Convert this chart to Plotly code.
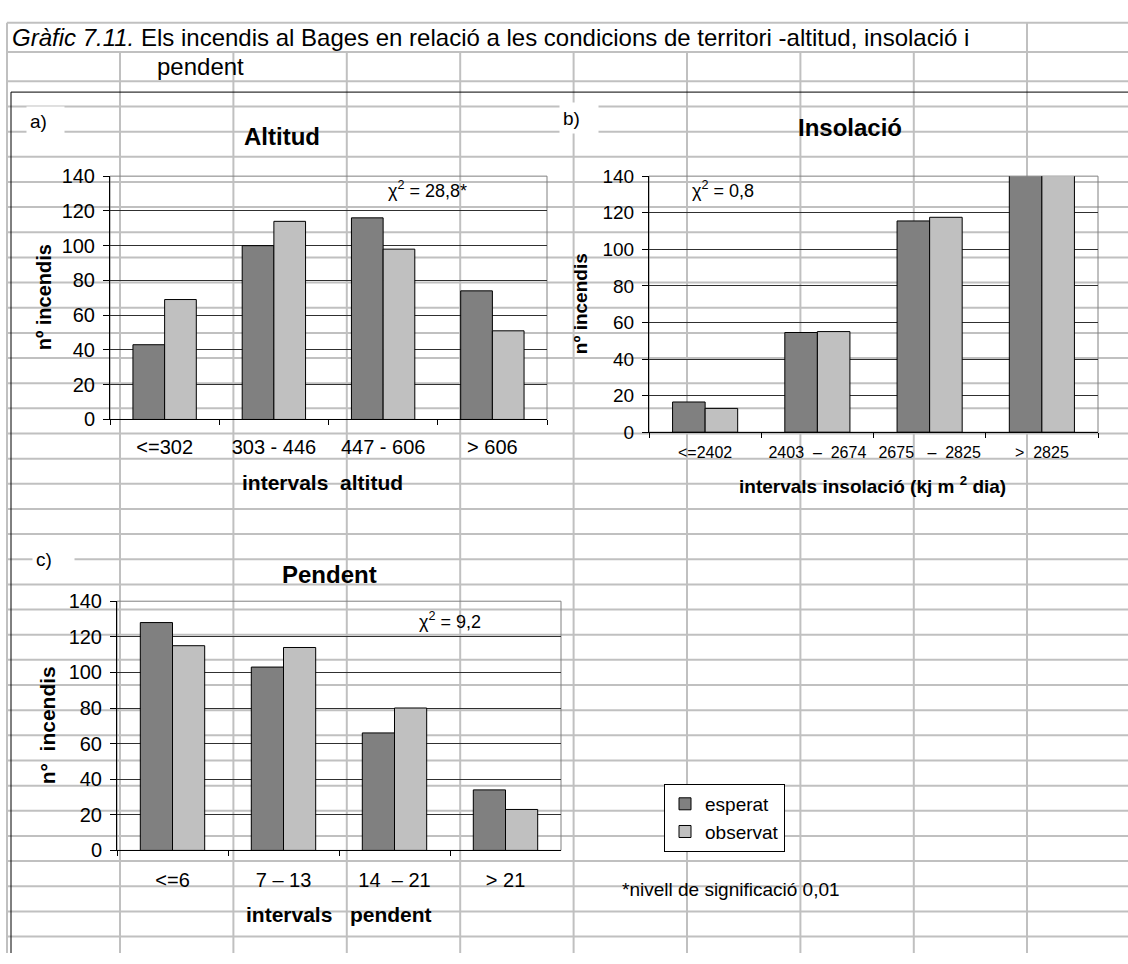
import plotly.graph_objects as go

W, H = 1128, 964
NB = "\u00a0"


def X(p):
    return p / W


def Y(p):
    return 1 - p / H


# ---------------- data ----------------
altitud_cats = ["<=302", "303 - 446", "447 - 606", "> 606"]
altitud_esperat = [43, 100, 116, 74]
altitud_observat = [69, 114, 98, 51]

insolacio_cats = ["<=2402", f"2403{NB}{NB}–{NB}{NB}2674", f"2675{NB}{NB}{NB}–{NB}{NB}2825", f">{NB}{NB}2825"]
insolacio_esperat = [16.5, 54.5, 115.5, 146]
insolacio_observat = [13, 55, 117.5, 147]

pendent_cats = ["<=6", "7 – 13", f"14{NB}{NB}– 21", "> 21"]
pendent_esperat = [128, 103, 66, 34]
pendent_observat = [115, 114, 80, 23]

series_names = ["esperat", "observat"]
series_colors = ["#808080", "#C0C0C0"]

y_ticks = [0, 20, 40, 60, 80, 100, 120, 140]

FONT = "Liberation Sans, Arial, sans-serif"

fig = go.Figure()

panels = [
    ("x", "y", altitud_cats, [altitud_esperat, altitud_observat]),
    ("x2", "y2", insolacio_cats, [insolacio_esperat, insolacio_observat]),
    ("x3", "y3", pendent_cats, [pendent_esperat, pendent_observat]),
]
for pi, (xa, ya, cats, vals) in enumerate(panels):
    for si, (name, col, v) in enumerate(zip(series_names, series_colors, vals)):
        fig.add_trace(go.Bar(
            x=cats, y=v, name=name, xaxis=xa, yaxis=ya,
            marker=dict(color=col, line=dict(color="black", width=1)),
            legendgroup=name, showlegend=(pi == 0), hoverinfo="skip",
        ))

# ---------------- axes ----------------
def xax(dom, size, standoff):
    return dict(domain=[X(dom[0]), X(dom[1])], type="category", showline=True,
                linecolor="black", linewidth=1, ticks="outside", ticklen=5,
                tickcolor="black", tickson="boundaries", showgrid=False,
                tickfont=dict(size=size, color="black", family=FONT),
                ticklabelstandoff=standoff, fixedrange=True)


def yax(dom, size, xanchor):
    return dict(domain=[Y(dom[1]), Y(dom[0])], range=[0, 140], tickvals=y_ticks,
                showline=True, linecolor="black", linewidth=1, ticks="outside",
                ticklen=6, tickcolor="black", showgrid=True, gridcolor="#303030",
                gridwidth=1, zeroline=False, anchor=xanchor,
                tickfont=dict(size=size, color="black", family=FONT),
                ticklabelstandoff=4, fixedrange=True)


fig.update_layout(
    xaxis=dict(**xax((110, 547), 20, 10), anchor="y"),
    yaxis=yax((169, 418), 20, "x"),
    xaxis2=dict(**xax((649, 1098), 16, 6), anchor="y2"),
    yaxis2=yax((169, 431), 19, "x2"),
    xaxis3=dict(**xax((117, 561), 20, 12), anchor="y3"),
    yaxis3=yax((604, 859), 20, "x3"),
)

# ---------------- spreadsheet background ----------------
shapes = []
GRAY = "#C0C0C0"
rows = [12, 42] + [72 + 25.74 * k for k in range(36) if 72 + 25.74 * k < H]
for r in rows:
    shapes.append(dict(type="line", xref="paper", yref="paper", x0=X(7), x1=X(W),
                       y0=Y(r), y1=Y(r), line=dict(color=GRAY, width=2), layer="below"))
shapes.append(dict(type="line", xref="paper", yref="paper", x0=X(7), x1=X(7),
                   y0=Y(12), y1=Y(H), line=dict(color=GRAY, width=2), layer="below"))
shapes.append(dict(type="line", xref="paper", yref="paper", x0=X(1027), x1=X(1027),
                   y0=Y(12), y1=Y(H), line=dict(color=GRAY, width=2), layer="below"))
for c in [120, 233.4, 346.8, 460.2, 573.6, 687, 800.4, 913.8]:
    shapes.append(dict(type="line", xref="paper", yref="paper", x0=X(c), x1=X(c),
                       y0=Y(42), y1=Y(H), line=dict(color=GRAY, width=2), layer="below"))
# chart object frame
shapes.append(dict(type="line", xref="paper", yref="paper", x0=X(11), x1=X(W),
                   y0=Y(83), y1=Y(83), line=dict(color="black", width=1), layer="below"))
shapes.append(dict(type="line", xref="paper", yref="paper", x0=X(11), x1=X(11),
                   y0=Y(83), y1=Y(H), line=dict(color="black", width=1), layer="below"))
# plot area borders
for xa, ya in [("x", "y"), ("x2", "y2"), ("x3", "y3")]:
    shapes.append(dict(type="rect", xref=f"{xa} domain", yref=f"{ya} domain",
                       x0=0, x1=1, y0=0, y1=1, line=dict(color="#808080", width=1),
                       layer="below"))

# ---------------- texts ----------------
ann = []


def txt(t, x, y, size=19, bold=False, xanchor="center", yanchor="middle", angle=0, **kw):
    if bold:
        t = f"<b>{t}</b>"
    ann.append(dict(text=t, x=X(x), y=Y(y), xref="paper", yref="paper", showarrow=False,
                    xanchor=xanchor, yanchor=yanchor, textangle=angle,
                    font=dict(size=size, color="black", family=FONT), **kw))


txt("<i>Gràfic 7.11.</i> Els incendis al Bages en relació a les condicions de territori -altitud, insolació i",
    10, 27, size=24, xanchor="left")
txt("pendent", 155, 57, size=24, xanchor="left")

# panel letters with white cell background
txt("a)", 26, 113, size=19, xanchor="left", bgcolor="white", width=31, height=22, borderpad=3, align="left")
txt("b)", 559, 110, size=19, xanchor="left", bgcolor="white", width=32, height=24, borderpad=3, align="left")
txt("c)", 32, 561, size=19, xanchor="left", bgcolor="white", width=35, height=22, borderpad=3, align="left")

txt("Altitud", 282, 128, size=24, bold=True)
txt("Insolació", 850, 119, size=24, bold=True)
txt("Pendent", 329, 577, size=24, bold=True)

txt("nº incendis", 44, 293, size=20, bold=True, angle=-90)
txt("nº incendis", 580, 300, size=19, bold=True, angle=-90)
txt(f"n°{NB}{NB}incendis", 47, 731, size=21, bold=True, angle=-90)

txt(f"intervals{NB}{NB}altitud", 322, 483, size=21, bold=True)
txt(f"intervals insolació (kj m{NB}<sup>2</sup>{NB}dia)", 872, 485, size=19, bold=True)
txt(f"intervals{NB}{NB}{NB}pendent", 339, 925, size=21, bold=True)

txt("χ<sup>2</sup> = 28,8*", 427, 183, size=18)
txt("χ<sup>2</sup> = 0,8", 723, 183, size=18)
txt("χ<sup>2</sup> = 9,2", 450, 624, size=18)

txt("*nivell de significació 0,01", 620, 899, size=19, xanchor="left")

fig.update_layout(
    width=W, height=H, margin=dict(l=0, r=0, t=0, b=0),
    paper_bgcolor="white", plot_bgcolor="rgba(0,0,0,0)",
    barmode="group", bargap=0.42, bargroupgap=0,
    font=dict(family=FONT, color="black"),
    shapes=shapes, annotations=ann,
    showlegend=True,
    legend=dict(x=X(664), y=Y(791), xanchor="left", yanchor="top",
                bgcolor="white", bordercolor="black", borderwidth=1,
                font=dict(size=19, color="black", family=FONT),
                traceorder="grouped", tracegroupgap=0),
)

fig.write_html(
    "out.html",
    config={"displayModeBar": False},
    post_script="document.body.style.margin='0px';document.body.style.overflow='hidden';",
)
